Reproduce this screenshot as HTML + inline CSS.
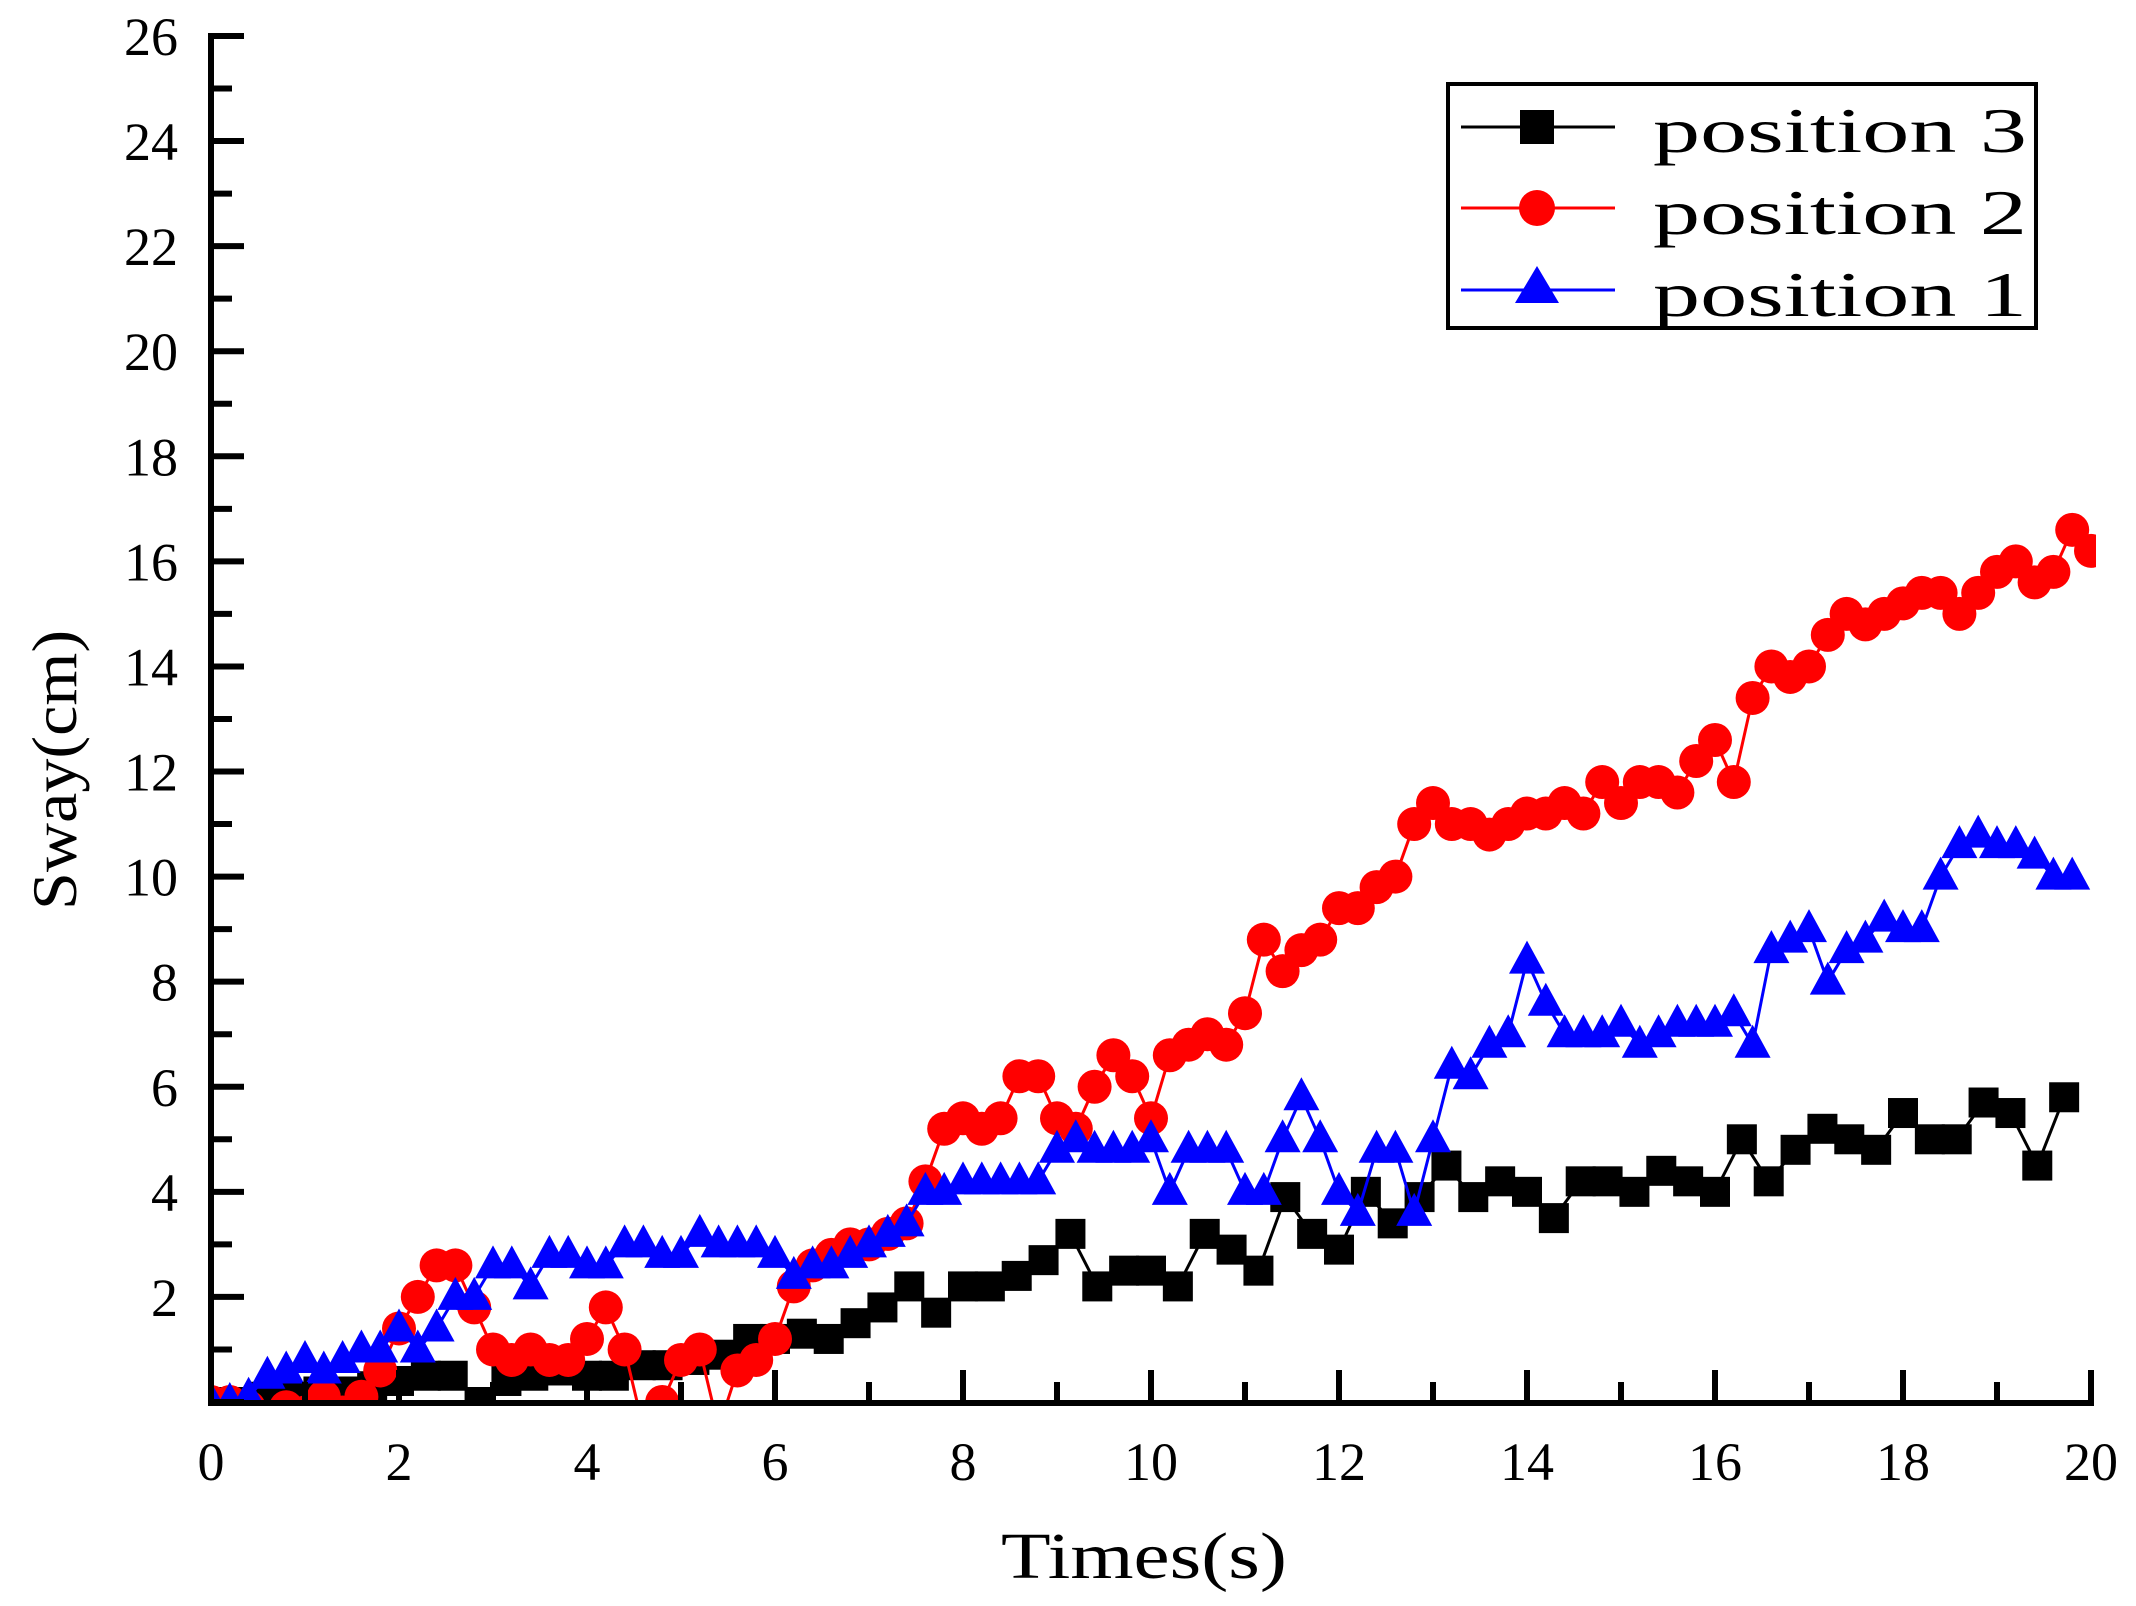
<!DOCTYPE html>
<html><head><meta charset="utf-8"><style>
html,body{margin:0;padding:0;background:#fff;}
svg{display:block;}
text{font-family:"Liberation Serif","Noto Serif CJK SC",serif;fill:#000;}
</style></head><body>
<svg id="s" width="2136" height="1606" viewBox="0 0 2136 1606" xmlns="http://www.w3.org/2000/svg">
<defs><clipPath id="c"><rect x="211" y="30" width="1885" height="1373"/></clipPath></defs>
<g id="data" clip-path="url(#c)"></g>
<g id="axes" stroke="#000" stroke-width="6" fill="none" stroke-linecap="square"></g>
<g id="labels" font-size="54"></g>
<text x="1001" y="1578" font-size="66" textLength="286" lengthAdjust="spacingAndGlyphs">Times(s)</text>
<text transform="translate(76,770) rotate(-90)" font-size="64" x="-140" textLength="280" lengthAdjust="spacingAndGlyphs">Sway(cm)</text>
<rect x="1448" y="84" width="588" height="244" fill="#fff" stroke="#000" stroke-width="4"/>
<line x1="1461" y1="127" x2="1615" y2="127" stroke="#000" stroke-width="3"/>
<rect x="1520" y="110" width="34" height="34" fill="#000"/>
<line x1="1461" y1="208" x2="1615" y2="208" stroke="#f00" stroke-width="3"/>
<ellipse cx="1537" cy="208" rx="18" ry="18" fill="#f00"/>
<line x1="1461" y1="290" x2="1615" y2="290" stroke="#00f" stroke-width="3"/>
<polygon points="1537,266 1559,303 1515,303" fill="#00f"/>
<text x="1653" y="152" font-size="64" textLength="374" lengthAdjust="spacingAndGlyphs">position 3</text>
<text x="1653" y="234" font-size="64" textLength="374" lengthAdjust="spacingAndGlyphs">position 2</text>
<text x="1653" y="316" font-size="64" textLength="374" lengthAdjust="spacingAndGlyphs">position 1</text>
</svg>
<script>
var NS="http://www.w3.org/2000/svg";
function X(t){return 211+t*94;}
function Y(v){return 1402-v*52.54;}
function el(n,a,p){var e=document.createElementNS(NS,n);for(var k in a)e.setAttribute(k,a[k]);p.appendChild(e);return e;}
var ax=document.getElementById('axes'),lb=document.getElementById('labels'),dg=document.getElementById('data');
el('line',{x1:211,y1:36,x2:211,y2:1403},ax);
el('line',{x1:211,y1:1403,x2:2090,y2:1403},ax);
for(var i=0;i<=26;i++){var y=Y(i);el('line',{x1:211,y1:y,x2:211+(i%2?18:30),y2:y},ax);
 if(i%2==0&&i>0){var t=el('text',{x:178,y:y+19,'text-anchor':'end'},lb);t.textContent=i;}}
for(var i=0;i<=20;i++){var x=X(i);el('line',{x1:x,y1:1403,x2:x,y2:1403-(i%2?18:30)},ax);
 if(i%2==0){var t=el('text',{x:x,y:1480,'text-anchor':'middle'},lb);t.textContent=i;}}
var black=[0,0,0.1,0.1,0.2,0.2,0.3,0.4,0.5,0.5,0,0.4,0.5,0.6,0.5,0.5,0.7,0.7,0.8,0.9,1.2,1.2,1.3,1.2,
1.5,1.8,2.2,1.7,2.2,2.2,2.4,2.7,3.2,2.2,2.5,2.5,2.2,3.2,2.9,2.5,3.9,3.2,2.9,4.0,3.4,3.9,4.5,3.9,4.2,4.0,3.5,4.2,4.2,4.0,4.4,4.2,4.0,5.0,4.2,4.8,5.2,5.0,4.8,5.5,5.0,5.0,5.7,5.5,4.5,5.8];
var red=[0,0,-0.1,-0.3,-0.1,-0.2,0.1,-0.2,0.1,0.6,1.4,2.0,2.6,2.6,1.8,1.0,0.8,1.0,0.8,0.8,1.2,1.8,1.0,-0.5,0,0.8,1.0,-0.5,0.6,0.8,1.2,2.2,2.6,2.8,3.0,3.0,3.2,3.4,4.2,5.2,5.4,5.2,5.4,6.2,6.2,5.4,5.2,6.0,6.6,6.2,5.4,6.6,6.8,7.0,6.8,7.4,8.8,8.2,8.6,8.8,9.4,9.4,9.8,10.0,11.0,11.4,11.0,11.0,10.8,11.0,11.2,11.2,11.4,11.2,11.8,11.4,11.8,11.8,11.6,12.2,12.6,11.8,13.4,14.0,13.8,14.0,14.6,15.0,14.8,15.0,15.2,15.4,15.4,15.0,15.4,15.8,16.0,15.6,15.8,16.6,16.2];
var blue=[0,0,0.1,0.5,0.6,0.8,0.6,0.8,1.0,1.0,1.4,1.0,1.4,2.0,2.0,2.6,2.6,2.2,2.8,2.8,2.6,2.6,3.0,3.0,2.8,2.8,3.2,3.0,3.0,3.0,2.8,2.4,2.6,2.6,2.8,3.0,3.2,3.4,4.0,4.0,4.2,4.2,4.2,4.2,4.2,4.8,5.0,4.8,4.8,4.8,5.0,4.0,4.8,4.8,4.8,4.0,4.0,5.0,5.8,5.0,4.0,3.6,4.8,4.8,3.6,5.0,6.4,6.2,6.8,7.0,8.4,7.6,7.0,7.0,7.0,7.2,6.8,7.0,7.2,7.2,7.2,7.4,6.8,8.6,8.8,9.0,8.0,8.6,8.8,9.2,9.0,9.0,10.0,10.6,10.8,10.6,10.6,10.4,10.0,10.0];
function series(d,step,col,mk){var pts=d.map(function(v,i){return [X(i*step),Y(v)];});
 el('polyline',{points:pts.map(function(p){return p[0].toFixed(1)+','+p[1].toFixed(1)}).join(' '),fill:'none',stroke:col,'stroke-width':3},dg);
 pts.forEach(function(p){if(mk=='s')el('rect',{x:p[0]-15,y:p[1]-15,width:30,height:30,fill:col},dg);
  else if(mk=='c')el('ellipse',{cx:p[0],cy:p[1],rx:17,ry:17,fill:col},dg);
  else el('polygon',{points:p[0]+','+(p[1]-20)+' '+(p[0]+18)+','+(p[1]+13)+' '+(p[0]-18)+','+(p[1]+13),fill:col},dg);});}
series(black,20/70,'#000','s');
series(red,0.2,'#f00','c');
series(blue,0.2,'#00f','t');
</script>
</body></html>
